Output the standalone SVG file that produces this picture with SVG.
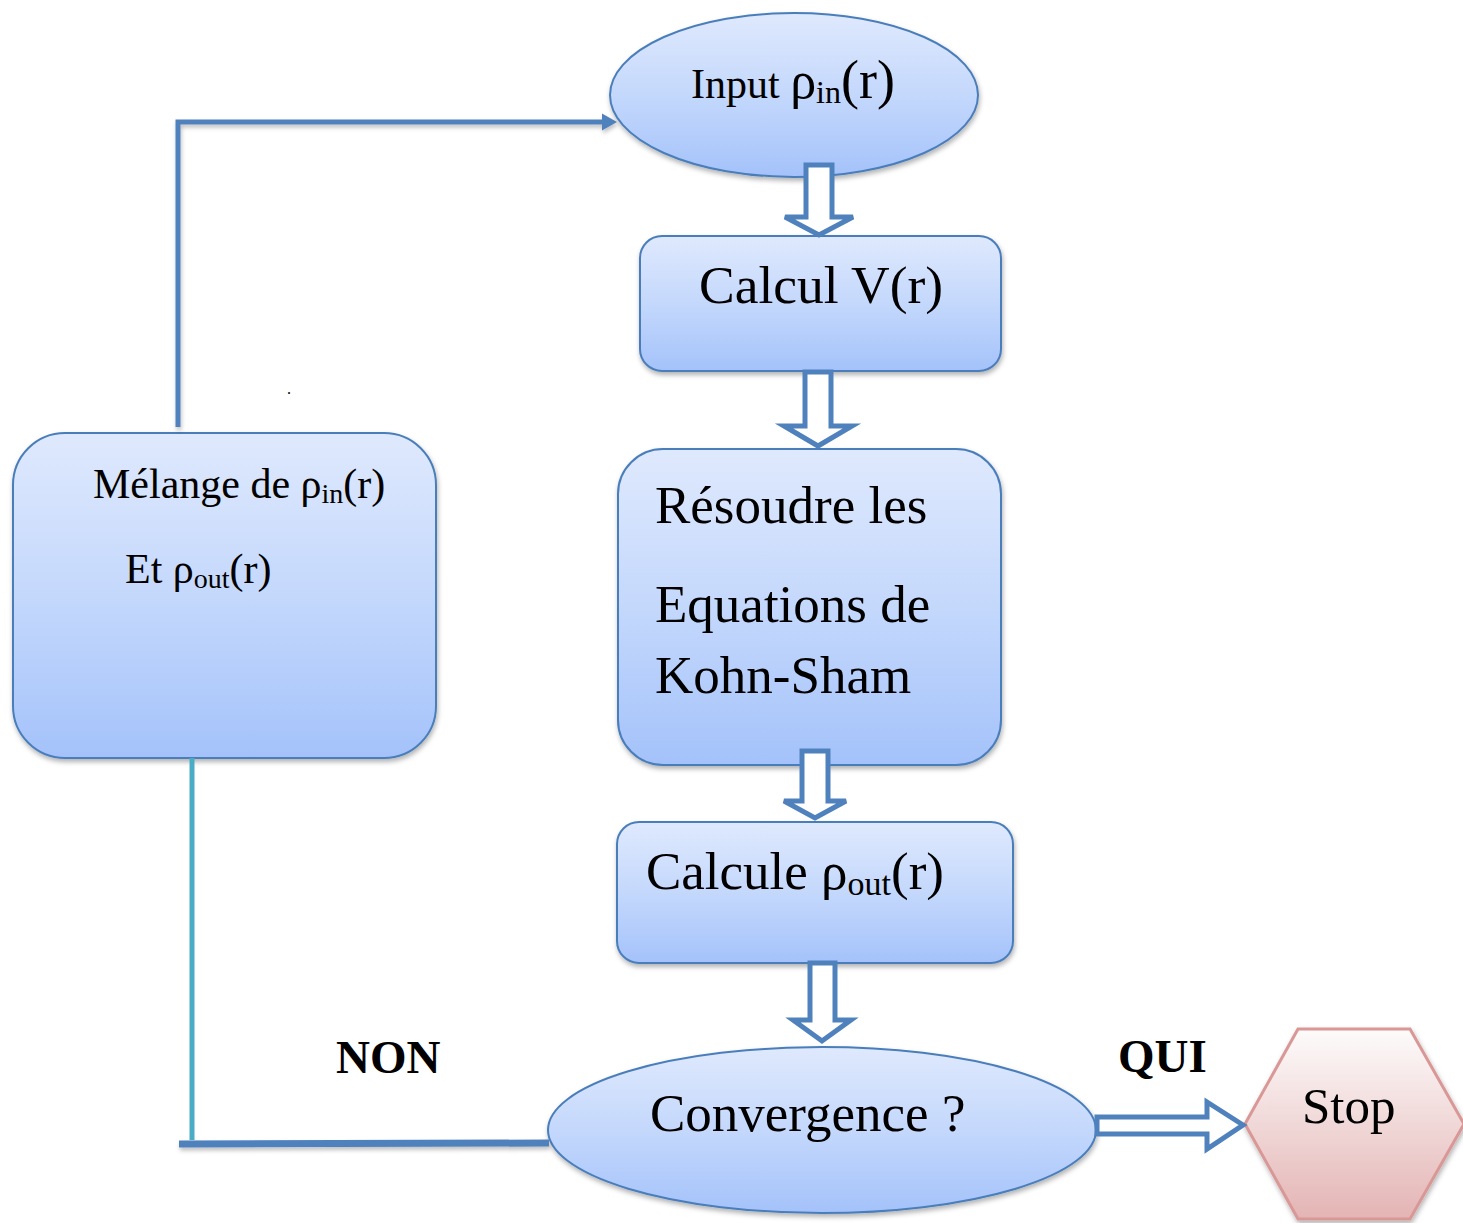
<svg xmlns="http://www.w3.org/2000/svg" width="1463" height="1223" viewBox="0 0 1463 1223">
<defs>
<linearGradient id="blue" x1="0" y1="0" x2="0" y2="1">
<stop offset="0" stop-color="#dfe9fd"/>
<stop offset="0.5" stop-color="#c4d8fc"/>
<stop offset="1" stop-color="#a4c2fa"/>
</linearGradient>
<linearGradient id="pink" x1="0" y1="0" x2="0" y2="1">
<stop offset="0" stop-color="#fdfbfb"/>
<stop offset="1" stop-color="#e4b4b4"/>
</linearGradient>
<filter id="sh" x="-10%" y="-10%" width="120%" height="130%">
<feDropShadow dx="1" dy="3" stdDeviation="2.5" flood-color="#000" flood-opacity="0.3"/>
</filter>
<filter id="lsh" filterUnits="userSpaceOnUse" x="0" y="0" width="1463" height="1223">
<feDropShadow dx="1" dy="3" stdDeviation="2" flood-color="#000" flood-opacity="0.25"/>
</filter>
<marker id="ah" markerWidth="16" markerHeight="18" refX="0" refY="9" orient="auto" markerUnits="userSpaceOnUse" viewBox="0 0 16 18">
<path d="M0,0.5 L15,9 L0,17.5 z" fill="#4f81bd"/>
</marker>
<style>
.node{fill:url(#blue);stroke:#4a7ebb;stroke-width:2;filter:url(#sh)}
.stop{fill:url(#pink);stroke:#d99796;stroke-width:3;filter:url(#sh)}
.hollow{fill:#fff;stroke:#4f81bd;stroke-width:5;stroke-linejoin:miter}
.t{font-family:"Liberation Serif","Times New Roman",serif;fill:#000}
.b{font-family:"Liberation Serif","Times New Roman",serif;font-weight:bold;fill:#000}
.line{fill:none;stroke:#4f81bd;stroke-width:5;filter:url(#lsh)}
</style>
</defs>
<rect width="1463" height="1223" fill="#fff"/>

<g id="input">
<ellipse class="node" cx="794" cy="95" rx="184" ry="82"/>
<text class="t" x="691" y="98" font-size="42">Input <tspan font-size="52">ρ</tspan><tspan font-size="32" dy="5">in</tspan><tspan font-size="54" dy="-5">(r)</tspan></text>
</g>

<g id="calculV">
<rect class="node" x="640" y="236" width="361" height="135" rx="22"/>
<text class="t" x="699" y="303" font-size="53.5">Calcul V(r)</text>
</g>

<g id="resoudre">
<rect class="node" x="618" y="449" width="383" height="316" rx="45"/>
<text class="t" x="655" y="523" font-size="53">Résoudre les</text>
<text class="t" x="655" y="622" font-size="53">Equations de</text>
<text class="t" x="655" y="693" font-size="53">Kohn-Sham</text>
</g>

<g id="calculeRho">
<rect class="node" x="617" y="822" width="396" height="141" rx="22"/>
<text class="t" x="646" y="889" font-size="53">Calcule ρ<tspan font-size="34" dy="6">out</tspan><tspan dy="-6">(r)</tspan></text>
</g>

<g id="convergence">
<ellipse class="node" cx="822" cy="1130" rx="274" ry="83"/>
<text class="t" x="650" y="1131" font-size="53">Convergence ?</text>
</g>

<g id="melange">
<rect class="node" x="13" y="433" width="423" height="325" rx="52"/>
<text class="t" x="93" y="498" font-size="42">Mélange de ρ<tspan font-size="28" dy="5">in</tspan><tspan dy="-5">(r)</tspan></text>
<text class="t" x="125" y="583" font-size="42">Et ρ<tspan font-size="28" dy="5">out</tspan><tspan dy="-5">(r)</tspan></text>
</g>

<g id="stop">
<polygon class="stop" points="1245,1124 1298,1029 1410,1029 1464,1124 1410,1219 1298,1219"/>
<text class="t" x="1302" y="1123" font-size="51">Stop</text>
</g>

<g id="connectors">
<polyline class="line" points="178,427 178,122 602,122" marker-end="url(#ah)"/>
<line x1="192" y1="758" x2="192" y2="1140" stroke="#4bacc6" stroke-width="5"/>
<line class="line" x1="179" y1="1144" x2="549" y2="1143" style="stroke-width:7"/>
<polygon class="hollow" points="806,165 832,165 832,217 853,217 819,235 785,217 806,217"/>
<polygon class="hollow" points="805,372 831,372 831,426 852,426 818,446 784,426 805,426"/>
<polygon class="hollow" points="802,751 828,751 828,801 846,801 815,818 784,801 802,801"/>
<polygon class="hollow" points="810,963 835,963 835,1020 851,1020 822,1041 793,1020 810,1020"/>
<polygon class="hollow" points="1097,1117 1207,1117 1207,1102 1243,1125 1207,1149 1207,1134 1097,1134"/>
</g>

<g id="labels">
<text class="b" x="336" y="1073" font-size="47">NON</text>
<text class="b" x="1118" y="1072" font-size="47">QUI</text>
<text class="t" x="287" y="394" font-size="16">.</text>
</g>
</svg>
